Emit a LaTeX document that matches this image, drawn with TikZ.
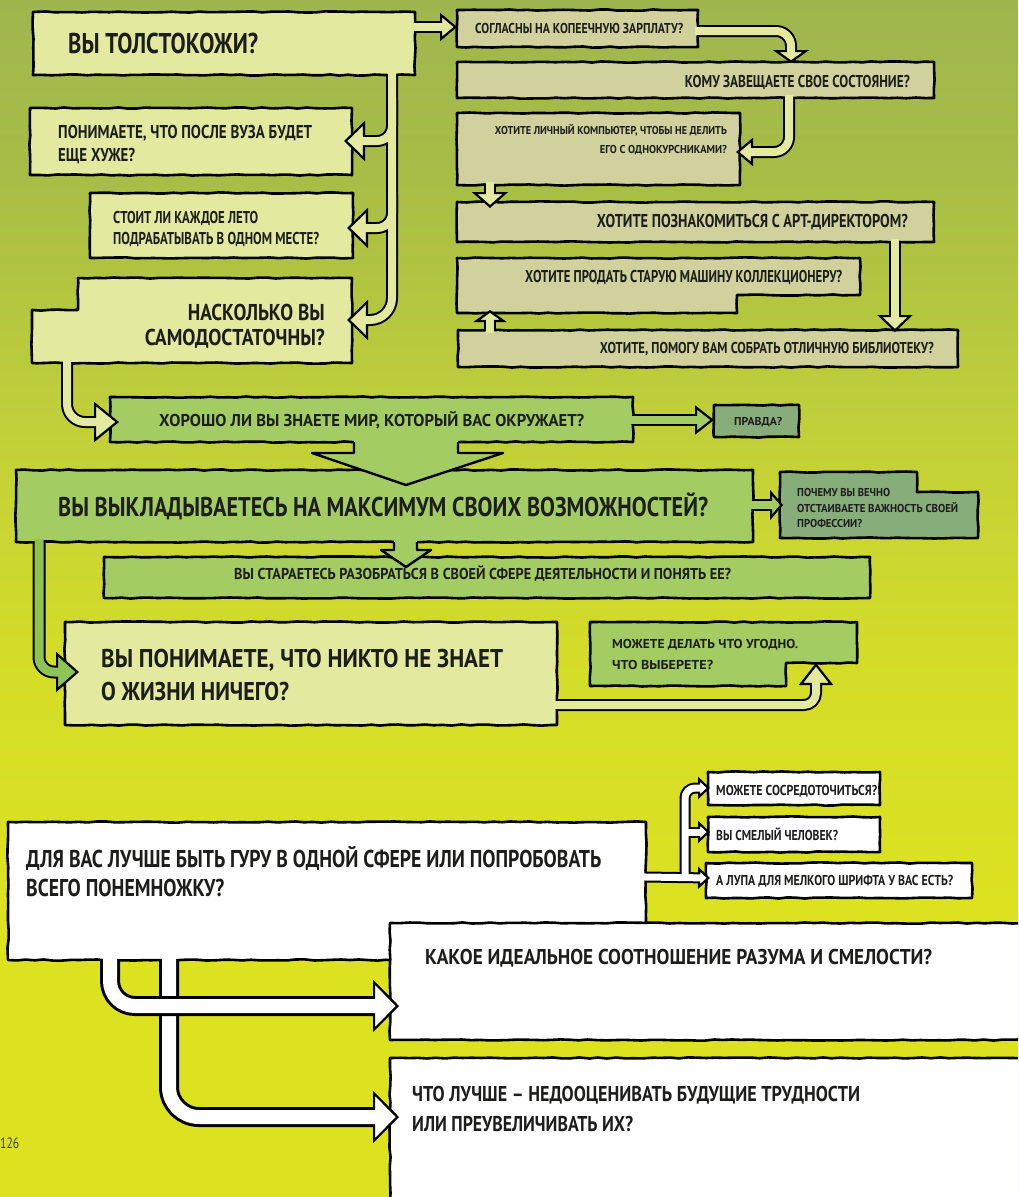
\documentclass[tikz,border=0pt]{standalone}
\usepackage{fontspec}
\usepackage{graphicx}
\usetikzlibrary{arrows.meta,decorations.pathmorphing}
\newfontfamily\hf{PT Sans}
\newcommand\fitw[2]{\resizebox{#1pt}{\height}{#2}}
\definecolor{cLight}{HTML}{E3E99F}
\definecolor{cKhaki}{HTML}{D0D19C}
\definecolor{cGreen}{HTML}{A3CD63}
\definecolor{cDark}{HTML}{87AD7B}
\definecolor{cBand}{HTML}{8EC454}
\definecolor{cTxt}{HTML}{1D1D1B}
\definecolor{bgA}{HTML}{9FB64F}
\definecolor{bgB}{HTML}{A8BD45}
\definecolor{bgC}{HTML}{C0CF3A}
\definecolor{bgD}{HTML}{D3DC29}
\definecolor{bgE}{HTML}{DCE220}
\pgfdeclareverticalshading{bgsh}{100bp}{color(0bp)=(bgE); color(37bp)=(bgE); color(48bp)=(bgD); color(57.5bp)=(bgC); color(67.5bp)=(bgB); color(75bp)=(bgA); color(100bp)=(bgA)}
\tikzset{
  boxs/.style={draw=black, line width=2.6pt, line join=round, decorate, decoration={random steps, segment length=9pt, amplitude=0.6pt}},
  rbox/.style={boxs, rectangle, inner sep=0pt, outer sep=0pt, anchor=north west},
  t/.style={inner sep=0pt, text=cTxt, font=\hf\bfseries\fontsize{#1}{#1}\selectfont},
  bo/.style n args={4}{line width=#1pt, draw=black, line join=round, -{Triangle[length=#2pt, width=#3pt, line width=2.2pt, fill=#4]}},
  bi/.style n args={3}{line width=#1pt, draw=#2, line join=round, shorten >=#3pt, shorten <=-3pt},
  outl/.style={draw=black, line width=2.4pt, line join=round},
}
\begin{document}
\begin{tikzpicture}[x=1pt, y=-1pt]
\useasboundingbox (0,0) rectangle (1018,1197);
\clip (0,0) rectangle (1018,1197);
\pgfmathsetseed{7}
\shade[shading=bgsh] (0,0) rectangle (1018,1197);

% ---------- boxes ----------
\node[rbox, fill=cLight, minimum width=382pt, minimum height=63pt] (b1) at (33,12) {};
\node[rbox, fill=cLight, minimum width=322pt, minimum height=67pt] (b2) at (30,108) {};
\node[rbox, fill=cLight, minimum width=263pt, minimum height=65pt] (b3) at (90,193) {};
\draw[boxs, fill=cLight] (78,278) -- (352,278) -- (352,363) -- (32,363) -- (32,310) -- (78,310) -- cycle;
\coordinate (b4) at (192,320);

\node[rbox, fill=cKhaki, minimum width=241pt, minimum height=37pt] (b5) at (457,10) {};
\node[rbox, fill=cKhaki, minimum width=477pt, minimum height=36pt] (b6) at (457,62) {};
\node[rbox, fill=cKhaki, minimum width=283pt, minimum height=72pt] (b7) at (457,113) {};
\node[rbox, fill=cKhaki, minimum width=477pt, minimum height=40pt] (b8) at (457,202) {};
\draw[boxs, fill=cKhaki] (457,258) -- (860,258) -- (860,295) -- (737,295) -- (737,313) -- (457,313) -- cycle;
\coordinate (b9) at (650,285);
\node[rbox, fill=cKhaki, minimum width=500pt, minimum height=37pt] (b10) at (458,330) {};

\node[rbox, fill=cGreen, minimum width=523pt, minimum height=45pt] (b11) at (110,397) {};
\node[rbox, fill=cDark, minimum width=85pt, minimum height=32pt] (bP) at (714,405) {};
\node[rbox, fill=cGreen, minimum width=737pt, minimum height=72pt] (b12) at (16,470) {};
\draw[boxs, fill=cDark] (780,472) -- (917,472) -- (917,492) -- (978,492) -- (978,538) -- (780,538) -- cycle;
\coordinate (b13) at (880,505);
\node[rbox, fill=cGreen, minimum width=766pt, minimum height=41pt] (b14) at (104,557) {};
\node[rbox, fill=cLight, minimum width=492pt, minimum height=103pt] (b15) at (65,622) {};
\draw[boxs, fill=cGreen] (590,622) -- (857,622) -- (857,663) -- (786,663) -- (786,686) -- (590,686) -- cycle;
\coordinate (b16) at (720,655);

\node[rbox, fill=white, minimum width=638pt, minimum height=138pt] (b20) at (8,822) {};
\node[rbox, fill=white, minimum width=640pt, minimum height=117pt] (b21) at (390,923) {};
\node[rbox, fill=white, minimum width=640pt, minimum height=160pt] (b22) at (390,1058) {};
\node[rbox, fill=white, minimum width=172pt, minimum height=33pt] (b17) at (708,772) {};
\node[rbox, fill=white, minimum width=172pt, minimum height=35pt] (b18) at (708,817) {};
\node[rbox, fill=white, minimum width=266pt, minimum height=35pt] (b19) at (706,863) {};

% ---------- arrow tip points ----------
\coordinate (a2) at (344,141);
\coordinate (a3) at (347,228);
\coordinate (a4) at (347,320);
\coordinate (a6) at (791,63);
\coordinate (a7) at (736,152);
\coordinate (a8) at (490,208);
\coordinate (a10) at (895,332);
\coordinate (a9) at (490,310);
\coordinate (a11) at (119,422);
\coordinate (a13) at (783,505);
\coordinate (a15) at (79,672);
\coordinate (a16) at (816,663);
\coordinate (a17) at (710,788);
\coordinate (a18) at (710,832);
\coordinate (a19) at (710,878);
\coordinate (a21) at (399,1006);
\coordinate (a22) at (399,1117);

% ---------- connectors ----------
% b1 -> b5
\draw[bo={12}{17}{28}{cLight}] (b1.east |- 0,27) -- (b5.west |- 0,27);
\draw[bi={8}{cLight}{13}] (b1.east |- 0,27) -- (b5.west |- 0,27);
% b1 -> b2, b3, b4
\draw[bo={12}{21}{40}{cLight}, rounded corners=22pt] (392,0 |- b1.south) |- (a4);
\draw[bo={12}{21}{40}{cLight}, rounded corners=15pt] (392,100) |- (a2);
\draw[bo={12}{21}{40}{cLight}, rounded corners=15pt] (392,195) |- (a3);
\draw[bi={8}{cLight}{17}, rounded corners=22pt] (392,0 |- b1.south) |- (a4);
\draw[bi={8}{cLight}{17}, rounded corners=15pt] (392,100) |- (a2);
\draw[bi={8}{cLight}{17}, rounded corners=15pt] (392,195) |- (a3);
% b5 -> b6
\draw[bo={12}{13}{36}{cLight}, rounded corners=15pt] (b5.east |- 0,31) -| (a6);
\draw[bi={8}{cLight}{9}, rounded corners=15pt] (b5.east |- 0,31) -| (a6);
% b6 -> b7
\draw[bo={12}{17}{28}{cLight}, rounded corners=15pt] (789,0 |- b6.south) |- (a7);
\draw[bi={8}{cLight}{13}, rounded corners=15pt] (789,0 |- b6.south) |- (a7);
% b7 -> b8
\draw[bo={12}{16}{36}{cLight}] (490,0 |- b7.south) -- (a8);
\draw[bi={8}{cLight}{12}] (490,0 |- b7.south) -- (a8);
% b8 -> b10
\draw[bo={12}{17}{35}{cLight}] (895,0 |- b8.south) -- (a10);
\draw[bi={8}{cLight}{13}] (895,0 |- b8.south) -- (a10);
% b10 -> b9
\draw[bo={12}{12}{33}{cLight}] (490,0 |- b10.north) -- (a9);
\draw[bi={8}{cLight}{8}] (490,0 |- b10.north) -- (a9);
% b4 -> b11
\draw[bo={12}{25}{40}{cLight}, rounded corners=18pt] (67,363) |- (a11);
\draw[bi={8}{cLight}{21}, rounded corners=18pt] (67,363) |- (a11);
% b11 -> bP
\draw[bo={12}{19}{29}{cGreen}] (b11.east |- 0,420) -- (bP.west |- 0,420);
\draw[bi={8}{cGreen}{15}] (b11.east |- 0,420) -- (bP.west |- 0,420);
% b11 -> b12 (wide arrow)
\fill[cGreen] (354,439) -- (354,453) -- (312,453) -- (406,485) -- (503,453) -- (458,453) -- (458,439) -- cycle;
\draw[outl] (354,0 |- b11.south) -- (354,453) -- (312,453) -- (406,485) -- (503,453) -- (458,453) -- (458,0 |- b11.south);
% b12 -> b13
\draw[bo={12}{13}{30}{cGreen}] (b12.east |- 0,505) -- (a13);
\draw[bi={8}{cGreen}{9}] (b12.east |- 0,505) -- (a13);
% b12 -> b14
\fill[cGreen] (394,539) -- (394,550) -- (381,550) -- (406,567) -- (431,550) -- (417,550) -- (417,539) -- cycle;
\draw[outl] (394,0 |- b12.south) -- (394,550) -- (381,550) -- (406,567) -- (431,550) -- (417,550) -- (417,0 |- b12.south);
% b12 -> b15
\draw[bo={13}{23}{40}{cBand}, rounded corners=15pt] (39,0 |- b12.south) |- (a15);
\draw[bi={9}{cBand}{19}, rounded corners=15pt] (39,0 |- b12.south) |- (a15);
% b15 -> b16
\draw[bo={12}{22}{34}{cLight}, rounded corners=12pt] (b15.east |- 0,705) -| (a16);
\draw[bi={8}{cLight}{18}, rounded corners=12pt] (b15.east |- 0,705) -| (a16);
% b20 -> b17, b18, b19
\draw[bo={11}{12}{22}{white}] (b20.east |- 0,877) -- (a19);
\draw[bo={11}{12}{22}{white}, rounded corners=10pt] (685,877) |- (a17);
\draw[bo={11}{12}{22}{white}] (685,832) -- (a18);
\draw[bi={7}{white}{8}] (b20.east |- 0,877) -- (a19);
\draw[bi={7}{white}{8}, rounded corners=10pt] (685,877) |- (a17);
\draw[bi={7}{white}{8}] (685,832) -- (a18);
% b20 -> b22
\draw[bo={20}{26}{52}{white}, rounded corners=30pt] (169,0 |- b20.south) |- (a22);
\draw[bi={14}{white}{22}, rounded corners=30pt] (169,0 |- b20.south) |- (a22);
% b20 -> b21
\draw[bo={20}{26}{52}{white}, rounded corners=25pt] (110,0 |- b20.south) |- (a21);
\draw[bi={14}{white}{22}, rounded corners=25pt] (110,0 |- b20.south) |- (a21);

% ---------- texts ----------
\node[t=28.6, anchor=base west] (t1) at (68,53) {\fitw{190}{ВЫ ТОЛСТОКОЖИ?}};
\node[t=18.6, anchor=base west] (t2a) at (58,138.5) {\fitw{254}{ПОНИМАЕТЕ, ЧТО ПОСЛЕ ВУЗА БУДЕТ}};
\node[t=18.6, anchor=base west] (t2b) at (58,161.5) {\fitw{77}{ЕЩЕ ХУЖЕ?}};
\node[t=17.1, anchor=base west] (t3a) at (113,223) {\fitw{145}{СТОИТ ЛИ КАЖДОЕ ЛЕТО}};
\node[t=17.1, anchor=base west] (t3b) at (113,244) {\fitw{206}{ПОДРАБАТЫВАТЬ В ОДНОМ МЕСТЕ?}};
\node[t=22.9, anchor=base east] (t4a) at (325,320) {\fitw{137}{НАСКОЛЬКО ВЫ}};
\node[t=22.9, anchor=base east] (t4b) at (325,345) {\fitw{180}{САМОДОСТАТОЧНЫ?}};
\node[t=14.3, anchor=base west] (t5) at (475,33) {\fitw{208}{СОГЛАСНЫ НА КОПЕЕЧНУЮ ЗАРПЛАТУ?}};
\node[t=17.1, anchor=base east] (t6) at (910,87) {\fitw{225}{КОМУ ЗАВЕЩАЕТЕ СВОЕ СОСТОЯНИЕ?}};
\node[t=11.4, anchor=base east] (t7a) at (727,134) {\fitw{232}{ХОТИТЕ ЛИЧНЫЙ КОМПЬЮТЕР, ЧТОБЫ НЕ ДЕЛИТЬ}};
\node[t=11.4, anchor=base east] (t7b) at (727,153) {\fitw{127}{ЕГО С ОДНОКУРСНИКАМИ?}};
\node[t=18.6, anchor=base east] (t8) at (908,227.5) {\fitw{311}{ХОТИТЕ ПОЗНАКОМИТЬСЯ С АРТ-ДИРЕКТОРОМ?}};
\node[t=17.1, anchor=base west] (t9) at (525,282) {\fitw{317}{ХОТИТЕ ПРОДАТЬ СТАРУЮ МАШИНУ КОЛЛЕКЦИОНЕРУ?}};
\node[t=15.7, anchor=base east] (t10) at (934,353.5) {\fitw{334}{ХОТИТЕ, ПОМОГУ ВАМ СОБРАТЬ ОТЛИЧНУЮ БИБЛИОТЕКУ?}};
\node[t=17.1, anchor=base west] (t11) at (159,426) {\fitw{425}{ХОРОШО ЛИ ВЫ ЗНАЕТЕ МИР, КОТОРЫЙ ВАС ОКРУЖАЕТ?}};
\node[t=11.4, anchor=base west] (t12) at (734,425) {\fitw{48}{ПРАВДА?}};
\node[t=27.1, anchor=base west] (t13) at (58,516.5) {\fitw{650}{ВЫ ВЫКЛАДЫВАЕТЕСЬ НА МАКСИМУМ СВОИХ ВОЗМОЖНОСТЕЙ?}};
\node[t=11.4, anchor=base west] (t14a) at (797,496) {\fitw{93}{ПОЧЕМУ ВЫ ВЕЧНО}};
\node[t=11.4, anchor=base west] (t14b) at (797,512) {\fitw{161}{ОТСТАИВАЕТЕ ВАЖНОСТЬ СВОЕЙ}};
\node[t=11.4, anchor=base west] (t14c) at (797,527) {\fitw{65}{ПРОФЕССИИ?}};
\node[t=15.7, anchor=base west] (t15) at (234,579.5) {\fitw{497}{ВЫ СТАРАЕТЕСЬ РАЗОБРАТЬСЯ В СВОЕЙ СФЕРЕ ДЕЯТЕЛЬНОСТИ И ПОНЯТЬ ЕЕ?}};
\node[t=25.7, anchor=base west] (t16a) at (101,667) {\fitw{402}{ВЫ ПОНИМАЕТЕ, ЧТО НИКТО НЕ ЗНАЕТ}};
\node[t=25.7, anchor=base west] (t16b) at (101,700) {\fitw{188}{О ЖИЗНИ НИЧЕГО?}};
\node[t=12.9, anchor=base west] (t17a) at (612,648.5) {\fitw{186}{МОЖЕТЕ ДЕЛАТЬ ЧТО УГОДНО.}};
\node[t=12.9, anchor=base west] (t17b) at (612,669.5) {\fitw{101}{ЧТО ВЫБЕРЕТЕ?}};
\node[t=14.3, anchor=base west] (t18) at (716,795) {\fitw{161}{МОЖЕТЕ СОСРЕДОТОЧИТЬСЯ?}};
\node[t=14.3, anchor=base west] (t19) at (716,840) {\fitw{122}{ВЫ СМЕЛЫЙ ЧЕЛОВЕК?}};
\node[t=14.3, anchor=base west] (t20) at (716,885) {\fitw{237}{А ЛУПА ДЛЯ МЕЛКОГО ШРИФТА У ВАС ЕСТЬ?}};
\node[t=24.3, anchor=base west] (t21a) at (26,867.5) {\fitw{575}{ДЛЯ ВАС ЛУЧШЕ БЫТЬ ГУРУ В ОДНОЙ СФЕРЕ ИЛИ ПОПРОБОВАТЬ}};
\node[t=24.3, anchor=base west] (t21b) at (26,896.5) {\fitw{198}{ВСЕГО ПОНЕМНОЖКУ?}};
\node[t=21.4, anchor=base west] (t22) at (425,964.5) {\fitw{507}{КАКОЕ ИДЕАЛЬНОЕ СООТНОШЕНИЕ РАЗУМА И СМЕЛОСТИ?}};
\node[t=21.4, anchor=base west] (t23a) at (412,1101.5) {\fitw{448}{ЧТО ЛУЧШЕ – НЕДООЦЕНИВАТЬ БУДУЩИЕ ТРУДНОСТИ}};
\node[t=21.4, anchor=base west] (t23b) at (412,1131.5) {\fitw{221}{ИЛИ ПРЕУВЕЛИЧИВАТЬ ИХ?}};
\node[inner sep=0pt, anchor=base west, text=cTxt!85, font=\hf\fontsize{15}{15}\selectfont] (pg) at (0,1148.5) {\fitw{19}{126}};
\end{tikzpicture}
\end{document}
